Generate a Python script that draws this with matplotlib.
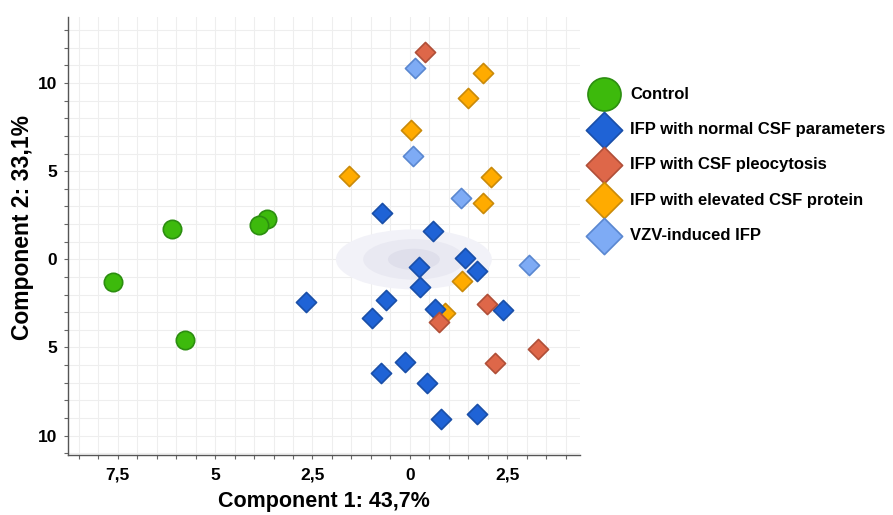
import matplotlib
matplotlib.use("Agg")
import matplotlib.pyplot as plt
from matplotlib.patches import Ellipse
from matplotlib.ticker import MultipleLocator

# ---------------- data ----------------
control_x = [-7.62, -6.1, -3.67, -3.87, -5.77]
control_y = [-1.3, 1.7, 2.27, 1.93, -4.55]

normal_x = [-0.72, 0.59, 1.41, 0.23, 1.72, 0.26, -2.67, -0.62, -0.97, 0.64, 2.38, -0.13, -0.74, 0.44, 0.79, 1.72]
normal_y = [2.61, 1.59, 0.06, -0.45, -0.68, -1.59, -2.44, -2.33, -3.3, -2.84, -2.9, -5.8, -6.42, -6.99, -9.03, -8.75]

pleo_x = [0.38, 1.97, 0.74, 2.18, 3.28]
pleo_y = [11.76, -2.56, -3.58, -5.9, -5.06]

protein_x = [1.87, 1.49, 0.03, -1.56, 2.08, 1.87, 1.33, 0.9]
protein_y = [10.57, 9.15, 7.33, 4.72, 4.66, 3.18, -1.25, -3.07]

vzv_x = [0.13, 0.08, 1.31, 3.05]
vzv_y = [10.85, 5.85, 3.47, -0.34]

ellipse_center = (0.1, 0.0)
ellipse_widths = [4.0, 2.6, 1.33]
ellipse_heights = [3.4, 2.3, 1.2]

x_ticks = [-7.5, -5, -2.5, 0, 2.5]
x_ticklabels = ["7,5", "5", "2,5", "0", "2,5"]
y_ticks = [-10, -5, 0, 5, 10]
y_ticklabels = ["10", "5", "0", "5", "10"]

labels = ["Control", "IFP with normal CSF parameters", "IFP with CSF pleocytosis",
          "IFP with elevated CSF protein", "VZV-induced IFP"]

# ---------------- figure ----------------
plt.rcParams['font.family'] = ['Liberation Sans', 'DejaVu Sans']
fig = plt.figure(figsize=(8.93, 5.15), dpi=100)
ax = fig.add_axes([68/893, 1-455/515, (580-68)/893, (455-17)/515])

ax.set_xlim(-8.77, 4.36)
ax.set_ylim(-11.1, 13.75)

ell_colors = ['#f2f2f8', '#e9e9f2', '#dfdfeb']
for w, h, c in zip(ellipse_widths, ellipse_heights, ell_colors):
    ax.add_patch(Ellipse(ellipse_center, w, h, facecolor=c, edgecolor='none', zorder=1))

h_ctrl = ax.scatter(control_x, control_y, marker='o', s=175, facecolor='#3dba0c',
                    edgecolor='#2c8e10', linewidth=1.2, zorder=3)
h_prot = ax.scatter(protein_x, protein_y, marker='D', s=105, facecolor='#ffab00',
                    edgecolor='#c98a0a', linewidth=1.2, zorder=3)
h_norm = ax.scatter(normal_x, normal_y, marker='D', s=105, facecolor='#1f63d6',
                    edgecolor='#1a4fa8', linewidth=1.2, zorder=4)
h_pleo = ax.scatter(pleo_x, pleo_y, marker='D', s=105, facecolor='#de6749',
                    edgecolor='#b04f38', linewidth=1.2, zorder=5)
h_vzv = ax.scatter(vzv_x, vzv_y, marker='D', s=105, facecolor='#7eabf5',
                   edgecolor='#5a87d0', linewidth=1.2, zorder=6)

# grid
ax.xaxis.set_minor_locator(MultipleLocator(0.5))
ax.yaxis.set_minor_locator(MultipleLocator(1))
ax.grid(True, which='both', color='#eeeeee', linewidth=0.8, zorder=0)
ax.set_axisbelow(True)

ax.set_xticks(x_ticks)
ax.set_xticklabels(x_ticklabels, fontsize=12.5, fontweight='bold')
ax.set_yticks(y_ticks)
ax.set_yticklabels(y_ticklabels, fontsize=12.5, fontweight='bold')
ax.tick_params(which='both', direction='out', length=3, width=0.8, color='#666666')
ax.tick_params(axis='x', which='major', pad=6)
ax.tick_params(axis='y', which='major', pad=5)

for s in ['top', 'right']:
    ax.spines[s].set_visible(False)
for s in ['left', 'bottom']:
    ax.spines[s].set_color('#555555')
    ax.spines[s].set_linewidth(1.0)

ax.set_xlabel("Component 1: 43,7%", fontsize=15.5, fontweight='bold')
ax.xaxis.set_label_coords(0.5, -0.083)
ax.xaxis.label.set_va('top')
ax.set_ylabel("Component 2: 33,1%", fontsize=16.5, fontweight='bold')
ax.yaxis.set_label_coords(-0.066, 0.52)

handles = [h_ctrl, h_norm, h_pleo, h_prot, h_vzv]
leg = fig.legend(handles, labels, loc='upper left', bbox_to_anchor=(581/893, 1-80/515),
                 frameon=False, markerscale=1.8, prop={'weight': 'bold', 'size': 12},
                 handletextpad=0.55, labelspacing=1.22, borderaxespad=0)

fig.savefig("out.png", dpi=100)
